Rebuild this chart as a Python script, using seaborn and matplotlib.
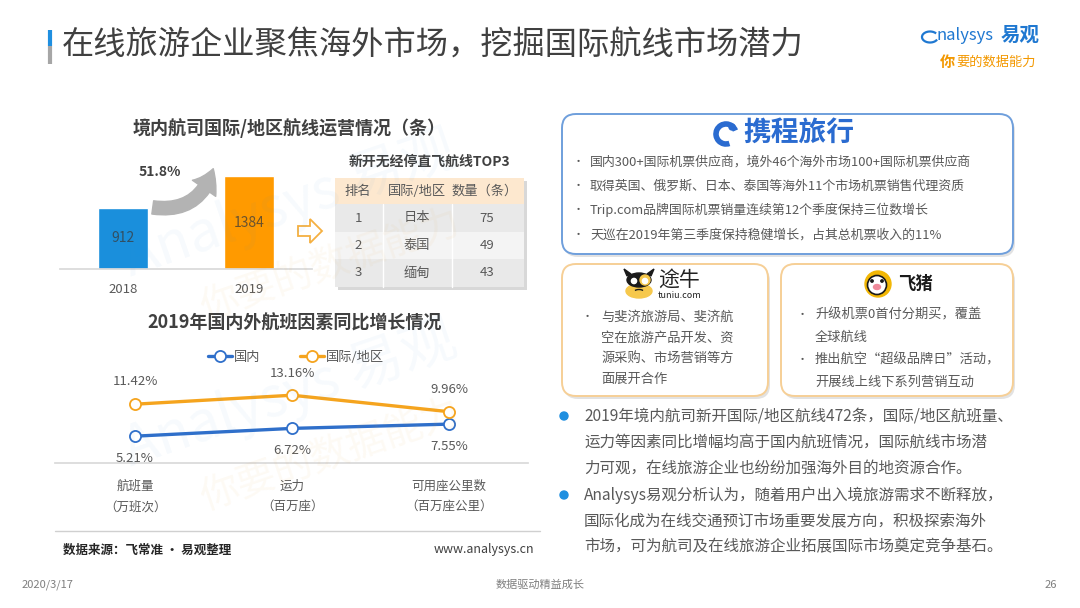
import matplotlib
matplotlib.use('Agg')
import matplotlib.pyplot as plt
import seaborn as sns
import numpy as np
from matplotlib.patches import FancyBboxPatch, Rectangle, Polygon, FancyArrowPatch, Circle, Ellipse, Arc

# ---------------- data ----------------
years = ['2018', '2019']
routes = [912, 1384]
growth_label = '51.8%'

top3_header = ['排名', '国际/地区', '数量（条）']
top3_rank = ['1', '2', '3']
top3_country = ['日本', '泰国', '缅甸']
top3_count = [75, 49, 43]

factor_cats = ['航班量\n（万班次）', '运力\n（百万座）', '可用座公里数\n（百万座公里）']
domestic = [5.21, 6.72, 7.55]
international = [11.42, 13.16, 9.96]
series_names = ['国内', '国际/地区']

ctrip_points = [
    '国内300+国际机票供应商，境外46个海外市场100+国际机票供应商',
    '取得英国、俄罗斯、日本、泰国等海外11个市场机票销售代理资质',
    'Trip.com品牌国际机票销量连续第12个季度保持三位数增长',
    '天巡在2019年第三季度保持稳健增长，占其总机票收入的11%',
]
tuniu_lines = ['与斐济旅游局、斐济航', '空在旅游产品开发、资', '源采购、市场营销等方', '面展开合作']
fliggy_points = [['升级机票0首付分期买，覆盖', '全球航线'],
                 ['推出航空“超级品牌日”活动，', '开展线上线下系列营销互动']]
summary = [
    ['2019年境内航司新开国际/地区航线472条，国际/地区航班量、',
     '运力等因素同比增幅均高于国内航班情况，国际航线市场潜',
     '力可观，在线旅游企业也纷纷加强海外目的地资源合作。'],
    ['Analysys易观分析认为，随着用户出入境旅游需求不断释放，',
     '国际化成为在线交通预订市场重要发展方向，积极探索海外',
     '市场，可为航司及在线旅游企业拓展国际市场奠定竞争基石。'],
]
slide_title = '在线旅游企业聚焦海外市场，挖掘国际航线市场潜力'
bar_title = '境内航司国际/地区航线运营情况（条）'
table_title = '新开无经停直飞航线TOP3'
line_title = '2019年国内外航班因素同比增长情况'
source_text = '数据来源：飞常准 · 易观整理'
site_text = 'www.analysys.cn'
footer = ['2020/3/17', '数据驱动精益成长', '26']

# ---------------- style ----------------
sns.set_theme(style='white')
plt.rcParams['font.family'] = ['Noto Sans CJK SC', 'DejaVu Sans']
plt.rcParams['axes.unicode_minus'] = False

W, H = 1080, 608
BLUE = '#1a8fdc'
ORANGE = '#ff9a00'
LBLUE = '#2f6fca'
LORANGE = '#f5a41e'
GRAY = '#595959'
DARK = '#404040'

fig = plt.figure(figsize=(10.8, 6.08), dpi=100)
fig.patch.set_facecolor('white')

# background overlay axes in pixel coords
bg = fig.add_axes([0, 0, 1, 1], zorder=0)
bg.set_xlim(0, W)
bg.set_ylim(H, 0)
bg.axis('off')


def t(x, y, s, size, color=GRAY, ha='left', va='center', weight='normal', ax=None, **kw):
    (ax or bg).text(x, y, s, fontsize=size, color=color, ha=ha, va=va, weight=weight, **kw)


def rbox(x0, y0, x1, y1, ec, r=14, lw=1.4):
    bg.add_patch(FancyBboxPatch((x0 + 2, y0 + 3), x1 - x0, y1 - y0,
                                boxstyle=f'round,pad=0,rounding_size={r}',
                                fc='#cfcfcf', ec='none', alpha=0.6, zorder=1))
    bg.add_patch(FancyBboxPatch((x0, y0), x1 - x0, y1 - y0,
                                boxstyle=f'round,pad=0,rounding_size={r}',
                                fc='white', ec=ec, lw=lw, zorder=2))


# ---------------- header ----------------
bg.plot([50, 50], [30, 46], color='#1f8fe0', lw=3, solid_capstyle='butt')
bg.plot([50, 50], [46, 64], color='#a6a6a6', lw=3, solid_capstyle='butt')
t(62, 46, slide_title, 23.2, DARK)

# logo
bg.add_patch(Arc((930, 37), 16, 11, theta1=20, theta2=330, color='#1f78d1', lw=1.6))
t(936, 36, 'nalysys', 12, '#1f78d1', style='italic')
t(1001, 35, '易观', 14, '#1f78d1', weight='bold')
t(940, 62, '你', 11, '#f39800', weight='bold', style='italic')
t(956, 62, '要的数据能力', 9.5, '#f39800', style='italic')

# ---------------- bar chart ----------------
t(289, 128, bar_title, 13, DARK, ha='center', weight='bold')

ax1 = fig.add_axes([60 / W, 1 - 269 / H, 252 / W, 119 / H], zorder=3)
ax1.set_facecolor('none')
sns.barplot(x=years, y=routes, hue=years, palette=[BLUE, ORANGE], width=0.4,
            legend=False, ax=ax1, saturation=1)
ax1.set_xlim(-0.5, 1.5)
ax1.set_ylim(0, 1771)
for c in ax1.containers:
    ax1.bar_label(c, label_type='center', fontsize=10, color='#3a3a3a', alpha=0.75)
sns.despine(ax=ax1, left=True)
ax1.spines['bottom'].set_color('#d9d9d9')
ax1.set_yticks([])
ax1.set_xlabel('')
ax1.set_ylabel('')
ax1.tick_params(axis='x', length=0, pad=10, labelsize=9.5, labelcolor=GRAY)

# growth arrow
bg.add_patch(FancyArrowPatch((150, 207), (214, 166), connectionstyle='arc3,rad=0.45',
                             arrowstyle='simple,head_width=1.7,head_length=1.3,tail_width=0.8',
                             mutation_scale=12, color='#b3b3b3', zorder=4))
t(160, 172, growth_label, 10, DARK, ha='center', weight='bold')

# hollow arrow
bg.add_patch(Polygon([(298, 226), (310, 226), (310, 219), (322, 231), (310, 243), (310, 236), (298, 236)],
                     closed=True, fc='white', ec='#f5b041', lw=1.3, zorder=4))

# table
t(429, 162, table_title, 10, DARK, ha='center', weight='bold')
tx0, tx1 = 335, 524
row_y = [178, 204, 232, 259, 287]
bg.add_patch(Rectangle((tx0 + 3, row_y[0] + 3), tx1 - tx0, row_y[-1] - row_y[0],
                       fc='#b8b8b8', ec='none', alpha=0.55, zorder=1))
fills = ['#fde8cf', '#e9e9e9', '#f4f4f4', '#e9e9e9']
for i, fc in enumerate(fills):
    bg.add_patch(Rectangle((tx0, row_y[i]), tx1 - tx0, row_y[i + 1] - row_y[i], fc=fc, ec='none', zorder=2))
for xv in [383, 452]:
    bg.plot([xv, xv], [row_y[1], row_y[-1]], color='white', lw=1, zorder=3)
col_x = [358, 417, 485]
for j, h in enumerate(top3_header):
    t(col_x[j], (row_y[0] + row_y[1]) / 2, h, 9.5, GRAY, ha='center', zorder=5)
for i in range(3):
    yc = (row_y[i + 1] + row_y[i + 2]) / 2
    t(col_x[0], yc, top3_rank[i], 9.5, GRAY, ha='center', zorder=5)
    t(col_x[1], yc, top3_country[i], 9.5, GRAY, ha='center', zorder=5)
    t(col_x[2] + 2, yc, str(top3_count[i]), 9.5, GRAY, ha='center', zorder=5)

# ---------------- line chart ----------------
t(295, 323, line_title, 13, DARK, ha='center', weight='bold')

ax2 = fig.add_axes([55 / W, 1 - 463 / H, 473 / W, 103 / H], zorder=3)
ax2.set_facecolor('none')
x_pos = np.arange(len(factor_cats))
sns.lineplot(x=x_pos, y=domestic, color=LBLUE, marker='o', markersize=8, markerfacecolor='white',
             markeredgecolor=LBLUE, markeredgewidth=1.3, linewidth=2.4, ax=ax2, label=series_names[0])
sns.lineplot(x=x_pos, y=international, color=LORANGE, marker='o', markersize=8, markerfacecolor='white',
             markeredgecolor=LORANGE, markeredgewidth=1.3, linewidth=2.4, ax=ax2, label=series_names[1])
ax2.set_xlim(-0.51, 2.503)
ax2.set_ylim(0, 20)
for i, v in enumerate(international):
    ax2.annotate(f'{v:.2f}%', (i, v), xytext=(0, 16), textcoords='offset points',
                 ha='center', va='center', fontsize=9.5, color=GRAY)
for i, v in enumerate(domestic):
    ax2.annotate(f'{v:.2f}%', (i, v), xytext=(0, -16), textcoords='offset points',
                 ha='center', va='center', fontsize=9.5, color=GRAY)
sns.despine(ax=ax2, left=True)
ax2.spines['bottom'].set_color('#d9d9d9')
ax2.set_yticks([])
ax2.set_xticks(x_pos, factor_cats)
ax2.tick_params(axis='x', length=0, pad=12, labelsize=9, labelcolor=GRAY)
for lbl in ax2.get_xticklabels():
    lbl.set_linespacing(1.8)
ax2.legend(loc='center', bbox_to_anchor=(296 / W, 1 - 357 / H), bbox_transform=fig.transFigure,
           ncol=2, frameon=False, handlelength=1.8, handletextpad=0.15, columnspacing=3.0,
           fontsize=9.5, labelcolor=GRAY)

# source line
bg.plot([55, 540], [531, 531], color='#d0d0d0', lw=1)
t(63, 550, source_text, 9, '#262626', weight='bold')
t(534, 550, site_text, 9, '#404040', ha='right')

# ---------------- right panel ----------------
# Ctrip
rbox(562, 114, 1013, 254, '#6f9fdc')
bg.add_patch(Arc((726, 134), 20, 20, theta1=70, theta2=340, color='#2a6bd0', lw=4, zorder=5))
bg.add_patch(Circle((732, 127), 3, color='#2a6bd0', zorder=5))
t(799, 133, '携程旅行', 20, '#2a6bd0', ha='center', weight='bold', zorder=5)
for i, s in enumerate(ctrip_points):
    y = [162, 186, 210, 235][i]
    t(578, y, '•', 8, GRAY, ha='center', zorder=5)
    t(590, y, s, 9.3, GRAY, zorder=5)

# Tuniu
rbox(562, 264, 768, 396, '#f6cf96')
bg.add_patch(Ellipse((639, 291), 26, 14, color='#f6c84c', zorder=5))
bg.add_patch(Ellipse((639, 280), 24, 14, color='#1a1a1a', zorder=5))
bg.add_patch(Polygon([(627, 276), (624, 269), (631, 274)], color='#1a1a1a', zorder=5))
bg.add_patch(Polygon([(651, 276), (654, 269), (647, 274)], color='#1a1a1a', zorder=5))
bg.add_patch(Ellipse((645, 280), 10, 10, color='#f6c84c', zorder=5))
bg.add_patch(Circle((634, 281), 2.6, color='white', zorder=6))
bg.add_patch(Circle((645, 281), 2.6, color='white', zorder=6))
bg.add_patch(Arc((639, 292), 10, 5, theta1=200, theta2=340, color='#1a1a1a', lw=1, zorder=6))
t(658, 280, '途牛', 15, '#222222', zorder=5)
t(680, 296, 'tuniu.com', 6.5, '#222222', ha='center', zorder=5)
t(587, 317, '•', 8, GRAY, ha='center', zorder=5)
for i, s in enumerate(tuniu_lines):
    t(601, [317, 338, 358, 379][i], s, 9.5, GRAY, zorder=5)

# Fliggy
rbox(781, 264, 1013, 396, '#f6cf96')
bg.add_patch(Circle((878, 284), 13, color='#f2b705', zorder=5))
bg.add_patch(Circle((877, 285), 9.5, fc='white', ec='#1a1a1a', lw=1.2, zorder=6))
bg.add_patch(Ellipse((877, 287), 7, 5, color='#f08a9a', zorder=7))
bg.add_patch(Circle((872, 281), 1.2, color='#1a1a1a', zorder=7))
bg.add_patch(Circle((882, 281), 1.2, color='#1a1a1a', zorder=7))
t(898, 284, '飞猪', 12.5, '#1a1a1a', weight='bold', style='italic', zorder=5)
fl_y = [[315, 337], [360, 382]]
for k, lines in enumerate(fliggy_points):
    t(802, fl_y[k][0], '•', 8, GRAY, ha='center', zorder=5)
    for j, s in enumerate(lines):
        t(815, fl_y[k][j], s, 9.5, GRAY, zorder=5)

# summary text
sum_y = [[416, 442, 468], [495, 522, 547]]
for k, lines in enumerate(summary):
    bg.add_patch(Circle((564, sum_y[k][0]), 4, color='#1f8fe0', zorder=5))
    for j, s in enumerate(lines):
        t(584, sum_y[k][j], s, 11.2, GRAY, zorder=5)

# footer
t(22, 585, footer[0], 8, '#7f7f7f')
t(540, 585, footer[1], 8, '#7f7f7f', ha='center')
t(1057, 585, footer[2], 8, '#7f7f7f', ha='right')

# watermark
wm = fig.add_axes([0, 0, 1, 1], zorder=10)
wm.set_xlim(0, W)
wm.set_ylim(H, 0)
wm.axis('off')
wm.patch.set_alpha(0)
for cy in [205, 395]:
    wm.text(290, cy, 'Analysys 易观', fontsize=40, color='#3b8fd6', alpha=0.045, rotation=19,
            ha='center', va='center')
    wm.text(330, cy + 60, '你要的数据能力', fontsize=28, color='#e8a23a', alpha=0.055, rotation=19,
            ha='center', va='center')

fig.savefig('out.png', dpi=100, facecolor='white')
